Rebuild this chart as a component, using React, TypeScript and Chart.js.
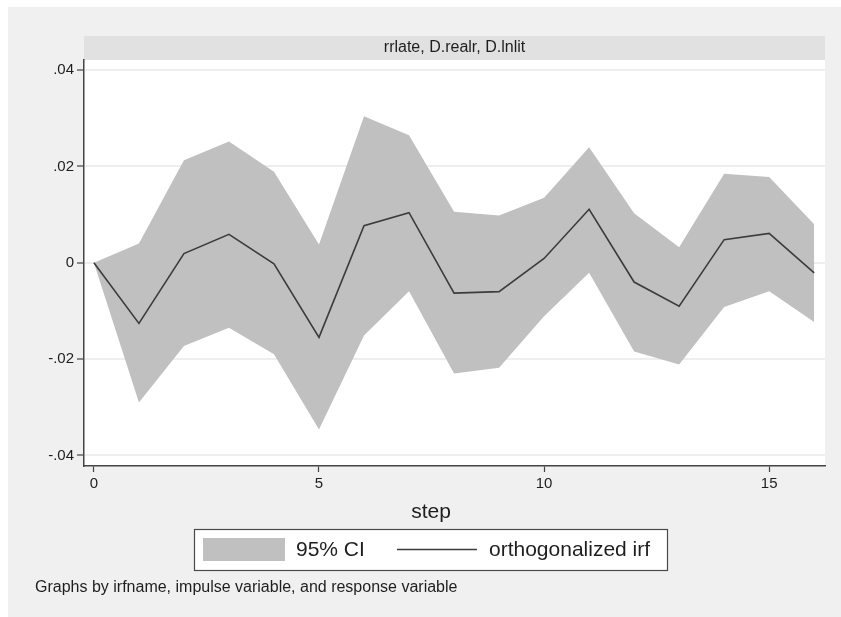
import React, { useEffect, useRef } from "react";
import { Chart, registerables } from "chart.js";

Chart.register(...registerables);

const steps = [0, 1, 2, 3, 4, 5, 6, 7, 8, 9, 10, 11, 12, 13, 14, 15, 16];
const irf = [0, -0.0126, 0.0019, 0.0059, -0.0002, -0.0155, 0.0077, 0.0104, -0.0063, -0.006, 0.0009, 0.0111, -0.004, -0.009, 0.0048, 0.0061, -0.0021];
const ciUpper = [0, 0.004, 0.0213, 0.0252, 0.0189, 0.0038, 0.0304, 0.0265, 0.0106, 0.0098, 0.0135, 0.024, 0.0103, 0.0032, 0.0185, 0.0178, 0.008];
const ciLower = [0, -0.029, -0.0173, -0.0135, -0.019, -0.0346, -0.0151, -0.0059, -0.023, -0.0218, -0.0111, -0.0021, -0.0184, -0.0211, -0.0092, -0.0059, -0.0123];

const xTicks = [0, 5, 10, 15];
const yTicks = [-0.04, -0.02, 0, 0.02, 0.04];
const yTickLabels = ["-.04", "-.02", "0", ".02", ".04"];

const panelTitle = "rrlate, D.realr, D.lnlit";
const xTitle = "step";
const ciLabel = "95% CI";
const irfLabel = "orthogonalized irf";
const noteText = "Graphs by irfname, impulse variable, and response variable";

const FONT = '"Liberation Sans", Arial, sans-serif';
const CI_COLOR = "#c0c0c0";
const LINE_COLOR = "#3c3c3c";
const TEXT_COLOR = "#1e1e1e";

const W = 841;
const H = 617;

const decorPlugin = {
  id: "stataDecor",
  beforeDraw(chart: any) {
    const { ctx, chartArea } = chart;
    ctx.save();
    ctx.fillStyle = "#ffffff";
    ctx.fillRect(0, 0, W, H);
    ctx.fillStyle = "#f0f0f0";
    ctx.fillRect(8, 7, W - 8, H - 7);
    ctx.fillStyle = "#ffffff";
    ctx.fillRect(chartArea.left, chartArea.top, chartArea.right - chartArea.left, chartArea.bottom - chartArea.top);
    // panel title strip
    ctx.fillStyle = "#e1e1e1";
    ctx.fillRect(chartArea.left, 36, chartArea.right - chartArea.left, chartArea.top - 36);
    ctx.restore();
  },
  afterDraw(chart: any) {
    const { ctx, chartArea } = chart;
    ctx.save();
    ctx.fillStyle = TEXT_COLOR;
    ctx.textBaseline = "middle";
    // strip title
    ctx.font = `16px ${FONT}`;
    ctx.textAlign = "center";
    ctx.fillText(panelTitle, (chartArea.left + chartArea.right) / 2, 48);
    // x axis title
    ctx.font = `21px ${FONT}`;
    ctx.fillText(xTitle, 431, 512);
    // legend box
    ctx.fillStyle = "#ffffff";
    ctx.fillRect(194, 529, 473, 41);
    ctx.strokeStyle = "#4a4a4a";
    ctx.lineWidth = 1.2;
    ctx.strokeRect(194.5, 529.5, 473, 41);
    ctx.fillStyle = CI_COLOR;
    ctx.fillRect(203, 538, 82, 23);
    ctx.fillStyle = TEXT_COLOR;
    ctx.textAlign = "left";
    ctx.font = `21px ${FONT}`;
    ctx.fillText(ciLabel, 296, 550);
    ctx.strokeStyle = LINE_COLOR;
    ctx.lineWidth = 1.6;
    ctx.beginPath();
    ctx.moveTo(397, 549.5);
    ctx.lineTo(477, 549.5);
    ctx.stroke();
    ctx.fillText(irfLabel, 489, 550);
    // note
    ctx.font = `16px ${FONT}`;
    ctx.fillText(noteText, 35, 588);
    ctx.restore();
  },
};

export default function App() {
  const ref = useRef<HTMLCanvasElement | null>(null);
  useEffect(() => {
    document.body.style.margin = "0";
    const canvas = ref.current;
    if (!canvas) return;
    const chart = new Chart(canvas, {
      type: "line",
      data: {
        datasets: [
          {
            label: irfLabel,
            data: steps.map((s, i) => ({ x: s, y: irf[i] })),
            borderColor: LINE_COLOR,
            borderWidth: 1.6,
            pointRadius: 0,
            fill: false,
            tension: 0,
          },
          {
            label: "lower",
            data: steps.map((s, i) => ({ x: s, y: ciLower[i] })),
            borderWidth: 0,
            borderColor: "rgba(0,0,0,0)",
            pointRadius: 0,
            fill: false,
          },
          {
            label: ciLabel,
            data: steps.map((s, i) => ({ x: s, y: ciUpper[i] })),
            borderWidth: 0,
            borderColor: "rgba(0,0,0,0)",
            backgroundColor: CI_COLOR,
            pointRadius: 0,
            fill: "-1",
          },
        ],
      },
      options: {
        responsive: false,
        animation: false,
        devicePixelRatio: 1,
        layout: { padding: { left: 0, top: 60, right: W - 825, bottom: H - 466 - 30 } },
        plugins: {
          legend: { display: false },
          tooltip: { enabled: false },
          title: { display: false },
        },
        scales: {
          x: {
            type: "linear",
            min: -0.22,
            max: 16.24,
            afterBuildTicks: (scale: any) => {
              scale.ticks = xTicks.map((v) => ({ value: v }));
            },
            afterFit: (scale: any) => {
              scale.height = 30;
            },
            grid: {
              drawOnChartArea: false,
              drawTicks: true,
              tickLength: 6,
              tickColor: "#444444",
              tickWidth: 1.2,
            },
            border: { display: true, color: "#444444", width: 1.5 },
            ticks: {
              color: TEXT_COLOR,
              font: { family: FONT, size: 15 },
              padding: 3,
              maxRotation: 0,
              autoSkip: false,
              callback: (v: any) => String(v),
            },
          },
          y: {
            type: "linear",
            min: -0.0422,
            max: 0.0421,
            afterBuildTicks: (scale: any) => {
              scale.ticks = yTicks.map((v) => ({ value: v }));
            },
            afterFit: (scale: any) => {
              scale.width = 84;
            },
            grid: {
              color: "#eeeeee",
              lineWidth: 2,
              drawTicks: true,
              tickLength: 7,
              tickColor: "#444444",
              tickWidth: 1.2,
            },
            border: { display: true, color: "#444444", width: 1.5 },
            ticks: {
              color: TEXT_COLOR,
              font: { family: FONT, size: 15 },
              padding: 3,
              autoSkip: false,
              callback: (v: any) => {
                const idx = yTicks.findIndex((t) => Math.abs(t - Number(v)) < 1e-9);
                return idx >= 0 ? yTickLabels[idx] : "";
              },
            },
          },
        },
      },
      plugins: [decorPlugin],
    });
    return () => chart.destroy();
  }, []);
  return (
    <div style={{ width: W, height: H, position: "relative" }}>
      <canvas ref={ref} width={W} height={H} style={{ display: "block", width: W, height: H }} />
    </div>
  );
}
